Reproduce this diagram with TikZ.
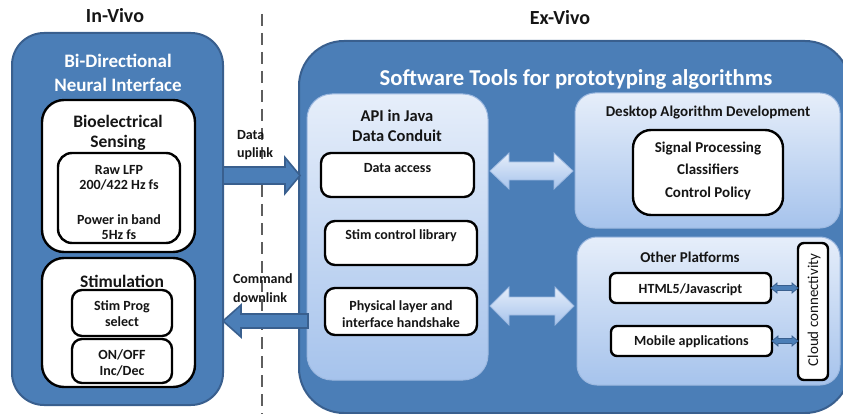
\documentclass[tikz,border=0pt]{standalone}
\usepackage{fontspec}
\setmainfont{Carlito}
\usetikzlibrary{calc}
\definecolor{outerblue}{HTML}{4B7EB7}
\definecolor{outerline}{HTML}{395F8E}
\definecolor{paletop}{HTML}{E6EEFA}
\definecolor{palebot}{HTML}{A6C3EC}
\definecolor{paleline}{HTML}{9DB9E0}
\definecolor{dashgray}{HTML}{5E5E5E}
\definecolor{ink}{HTML}{151515}
\newcommand\fsz[1]{\fontsize{#1}{#1}\selectfont}
% horizontal block arrow: style, tail, tip, half shaft, half head, head length
\newcommand\harrow[6]{%
  \path[#1] let \p1=#2, \p2=#3, \n1={(\x2>\x1)?1:-1} in
    (\x1,\y1+#4) -- (\x2-\n1*#6,\y1+#4) -- (\x2-\n1*#6,\y1+#5) -- (\x2,\y1)
    -- (\x2-\n1*#6,\y1-#5) -- (\x2-\n1*#6,\y1-#4) -- (\x1,\y1-#4) -- cycle;}
% horizontal double block arrow (left end first)
\newcommand\dharrow[6]{%
  \path[#1] let \p1=#2, \p2=#3 in
    (\x1,\y1) -- (\x1+#6,\y1+#5) -- (\x1+#6,\y1+#4) -- (\x2-#6,\y1+#4)
    -- (\x2-#6,\y1+#5) -- (\x2,\y1) -- (\x2-#6,\y1-#5) -- (\x2-#6,\y1-#4)
    -- (\x1+#6,\y1-#4) -- (\x1+#6,\y1-#5) -- cycle;}
\begin{document}
\begin{tikzpicture}[x=1pt,y=-1pt,
  every node/.style={inner sep=0pt,outer sep=0pt},
  outerbox/.style={draw=outerline,fill=outerblue,line width=2pt},
  palebox/.style={draw=paleline,line width=1pt,top color=paletop,bottom color=palebot},
  whitebox/.style={draw=black,fill=white,line width=2.4pt},
  heading/.style={font=\bfseries\fsz{20},text=ink,anchor=base},
  wtitle/.style={font=\bfseries\fsz{19},text=white,anchor=base},
  sub/.style={font=\bfseries\fsz{17.5},text=ink,anchor=base},
  small/.style={font=\bfseries\fsz{14},text=ink,anchor=base},
  mid/.style={font=\bfseries\fsz{15},text=ink,anchor=base},
  lbl/.style={font=\bfseries\fsz{14},text=ink,anchor=base west},
  bigarrow/.style={fill=outerblue,draw=outerline,line width=1.6pt},
  palearrow/.style={top color=paletop,bottom color=palebot,draw=paleline,line width=0.8pt},
  tinyarrow/.style={fill=outerblue,draw=outerline,line width=0.8pt}]
\useasboundingbox (0,0) rectangle (843,414);

% divider between the two domains
\draw[dashgray,line width=2pt,dash pattern=on 12pt off 7pt] (262,14) -- (262,414);
\node[heading] (invivo) at (115,23) {In-Vivo};
\node[heading] (exvivo) at (560,25) {Ex-Vivo};

% ---------- in-vivo side ----------
\node[outerbox,rounded corners=32pt,minimum width=211pt,minimum height=372pt] (iv) at (117.5,219) {};
\node[wtitle] (bidir) at (118,68) {Bi-Directional};
\node[wtitle] (neural) at (118,92) {Neural Interface};

\node[whitebox,rounded corners=22pt,minimum width=153pt,minimum height=152pt] (bio) at (118.5,176) {};
\node[sub] (bio1) at (118,128) {Bioelectrical};
\node[sub] (bio2) at (118,148) {Sensing};
\node[whitebox,rounded corners=14pt,minimum width=122pt,minimum height=90pt] (raw) at (119,198) {};
\node[small] (raw1) at (119,175) {Raw LFP};
\node[small] (raw2) at (119,190) {200/422 Hz fs};
\node[small] (raw3) at (119,224) {Power in band};
\node[small] (raw4) at (119,240) {5Hz fs};

\node[whitebox,rounded corners=22pt,minimum width=153pt,minimum height=129pt] (stim) at (118.5,322.5) {};
\node[sub] (stimt) at (122,287) {Stimulation};
\node[whitebox,rounded corners=10pt,minimum width=100pt,minimum height=46pt] (prog) at (122,313) {};
\node[small] (prog1) at (122,310) {Stim Prog};
\node[small] (prog2) at (122,326) {select};
\node[whitebox,rounded corners=10pt,minimum width=100pt,minimum height=44pt] (onoff) at (122,361) {};
\node[small] (onoff1) at (122,359) {ON/OFF};
\node[small] (onoff2) at (122,375) {Inc/Dec};

% ---------- ex-vivo side ----------
\node[outerbox,rounded corners=45pt,minimum width=551pt,minimum height=372pt] (exv) at (574.5,227) {};
\node[wtitle,font=\bfseries\fsz{22.7}] (sw) at (576,86) {Software Tools for prototyping algorithms};

\node[palebox,rounded corners=25pt,minimum width=181pt,minimum height=286pt] (api) at (397.5,237) {};
\node[mid,font=\bfseries\fsz{16.5}] (api1) at (397,122) {API in Java};
\node[mid,font=\bfseries\fsz{16.5}] (api2) at (397,142) {Data Conduit};
\node[whitebox,rounded corners=10pt,minimum width=153pt,minimum height=44pt] (access) at (397.5,175) {};
\node[small] (access1) at (397.5,173) {Data access};
\node[whitebox,rounded corners=10pt,minimum width=152pt,minimum height=44pt] (stimlib) at (401,243) {};
\node[small] (stimlib1) at (401,240) {Stim control library};
\node[whitebox,rounded corners=10pt,minimum width=152pt,minimum height=47pt] (phys) at (401,311.5) {};
\node[small] (phys1) at (401,310) {Physical layer and};
\node[small] (phys2) at (401,327) {interface handshake};

\node[palebox,rounded corners=20pt,minimum width=265pt,minimum height=135pt] (desk) at (707.5,160.5) {};
\node[mid] (desk1) at (708,117) {Desktop Algorithm Development};
\node[whitebox,rounded corners=18pt,minimum width=150pt,minimum height=85pt] (sig) at (708,172.5) {};
\node[mid] (sig1) at (708,153) {Signal Processing};
\node[mid] (sig2) at (708,175) {Classifiers};
\node[mid] (sig3) at (708,198) {Control Policy};

\node[palebox,rounded corners=20pt,minimum width=263pt,minimum height=148pt] (other) at (708.5,311) {};
\node[mid] (other1) at (690,262) {Other Platforms};
\node[whitebox,rounded corners=6pt,minimum width=161pt,minimum height=30pt] (html) at (690.5,288) {};
\node[small] (html1) at (690.5,293) {HTML5/Javascript};
\node[whitebox,rounded corners=6pt,minimum width=161pt,minimum height=30pt] (mobile) at (691.5,341) {};
\node[small] (mobile1) at (691.5,345) {Mobile applications};
\node[whitebox,rounded corners=6pt,minimum width=30pt,minimum height=137pt] (cloud) at (813,311.5) {};
\node[font=\fsz{15},text=ink,rotate=90] (cloud1) at (814,310) {Cloud connectivity};

% ---------- links ----------
\coordinate (upy) at (0,175.5);
\coordinate (dny) at (0,321);
\coordinate (dy1) at (0,171);
\coordinate (dy2) at (0,306);
\harrow{bigarrow}{(iv.east |- upy)}{([xshift=1pt]exv.west |- upy)}{8.5pt}{18pt}{15pt}
\harrow{bigarrow}{([xshift=9pt]exv.west |- dny)}{(iv.east |- dny)}{7pt}{16pt}{18pt}
\node[lbl] (up1) at (237,140) {Data};
\node[lbl] (up2) at (237,158) {uplink};
\node[lbl] (dn1) at (233,283) {Command};
\node[lbl] (dn2) at (233,302) {downlink};

\dharrow{palearrow}{([xshift=2pt]api.east |- dy1)}{([xshift=-2pt]desk.west |- dy1)}{9pt}{18pt}{19pt}
\dharrow{palearrow}{([xshift=2pt]api.east |- dy2)}{([xshift=-3pt]other.west |- dy2)}{9pt}{19pt}{19pt}

\dharrow{tinyarrow}{(html.east)}{(cloud.west |- html.east)}{2.5pt}{5pt}{6pt}
\dharrow{tinyarrow}{(mobile.east)}{(cloud.west |- mobile.east)}{2.5pt}{5pt}{6pt}
\end{tikzpicture}
\end{document}
